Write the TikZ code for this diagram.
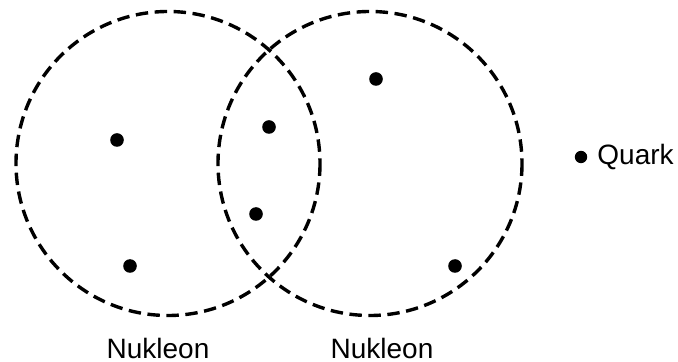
\documentclass[tikz,border=0pt]{standalone}
\usepackage{fontspec}
\setmainfont{Liberation Sans}
\begin{document}
\begin{tikzpicture}[x=0.5pt,y=-0.5pt,
  rand/.style={line width=1.7pt, dash pattern=on 6.2pt off 3.3pt},
  beschr/.style={font=\fontsize{14}{16}\selectfont, inner sep=0pt}]

\useasboundingbox (0,0) rectangle (678,362);

% Nukleonen (gestrichelte Kreise)
\draw[rand] (168,163.5) circle (152);
\draw[rand] (370,163.5) circle (152);

% Quarks
\foreach \x/\y in {117/140, 130/266, 269/127, 256/214, 376/79, 455/266}
    \fill ({\x},{\y}) circle (6.8);

% Legende
\fill (581,157) circle (6.2);
\node[beschr, anchor=base west] (quark) at (597,165) {Quark};

% Beschriftung
\node[beschr, anchor=base] (nuk1) at (158,358) {Nukleon};
\node[beschr, anchor=base] (nuk2) at (382,358) {Nukleon};
\end{tikzpicture}
\end{document}
